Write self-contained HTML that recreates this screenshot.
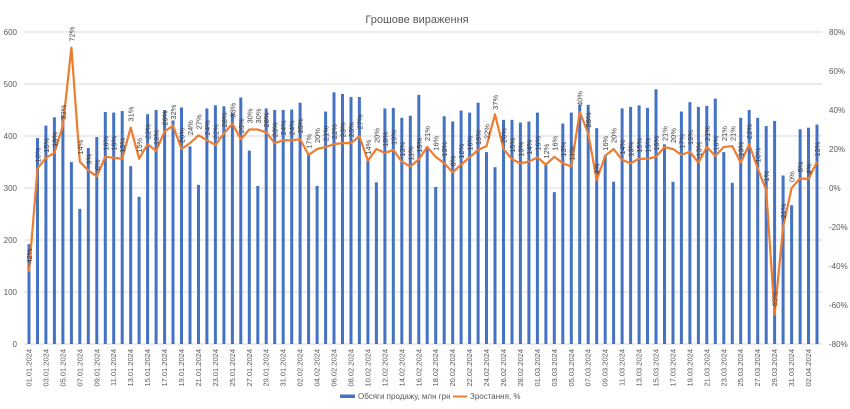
<!DOCTYPE html>
<html><head><meta charset="utf-8"><style>
html,body{margin:0;padding:0;background:#fff;}
svg{display:block;font-family:"Liberation Sans","DejaVu Sans",sans-serif;}
.t{font-size:8px;fill:#595959;}
.p{font-size:7.5px;fill:#404040;}
.x{font-size:7.5px;fill:#595959;}
</style></head><body>
<svg width="850" height="409" viewBox="0 0 850 409" xmlns="http://www.w3.org/2000/svg">
<rect width="850" height="409" fill="#fff"/>
<text x="417" y="23" text-anchor="middle" style="font-size:11px;fill:#595959">Грошове вираження</text>
<g stroke="#d9d9d9" stroke-width="1">
<line x1="24" x2="822" y1="32" y2="32"/><line x1="24" x2="822" y1="84" y2="84"/><line x1="24" x2="822" y1="136" y2="136"/><line x1="24" x2="822" y1="188" y2="188"/><line x1="24" x2="822" y1="240" y2="240"/><line x1="24" x2="822" y1="292" y2="292"/><line x1="24" x2="822" y1="344" y2="344"/>
</g>
<g class="t" text-anchor="end">
<text x="17" y="35">600</text><text x="17" y="87">500</text><text x="17" y="139">400</text><text x="17" y="191">300</text><text x="17" y="243">200</text><text x="17" y="295">100</text><text x="17" y="347">0</text>
</g>
<g class="t" text-anchor="start">
<text x="829" y="35">80%</text><text x="829" y="74">60%</text><text x="829" y="113">40%</text><text x="829" y="152">20%</text><text x="829" y="191">0%</text><text x="829" y="230">-20%</text><text x="829" y="269">-40%</text><text x="829" y="308">-60%</text><text x="829" y="347">-80%</text>
</g>
<g transform="translate(-1.5,344) scale(1,-0.52)" fill="#4472C4">
<rect x="29.0" width="3" height="192"/><rect x="37.5" width="3" height="396"/><rect x="45.9" width="3" height="420"/><rect x="54.4" width="3" height="436"/><rect x="62.9" width="3" height="440"/><rect x="71.4" width="3" height="350"/><rect x="79.8" width="3" height="260"/><rect x="88.3" width="3" height="377"/><rect x="96.8" width="3" height="398"/><rect x="105.3" width="3" height="446"/><rect x="113.7" width="3" height="445"/><rect x="122.2" width="3" height="448"/><rect x="130.7" width="3" height="342"/><rect x="139.1" width="3" height="283"/><rect x="147.6" width="3" height="442"/><rect x="156.1" width="3" height="450"/><rect x="164.6" width="3" height="450"/><rect x="173.0" width="3" height="430"/><rect x="181.5" width="3" height="455"/><rect x="190.0" width="3" height="380"/><rect x="198.5" width="3" height="306"/><rect x="206.9" width="3" height="453"/><rect x="215.4" width="3" height="459"/><rect x="223.9" width="3" height="457"/><rect x="232.4" width="3" height="445"/><rect x="240.8" width="3" height="474"/><rect x="249.3" width="3" height="372"/><rect x="257.8" width="3" height="304"/><rect x="266.2" width="3" height="453"/><rect x="274.7" width="3" height="450"/><rect x="283.2" width="3" height="450"/><rect x="291.7" width="3" height="451"/><rect x="300.1" width="3" height="464"/><rect x="308.6" width="3" height="365"/><rect x="317.1" width="3" height="304"/><rect x="325.6" width="3" height="447"/><rect x="334.0" width="3" height="484"/><rect x="342.5" width="3" height="481"/><rect x="351.0" width="3" height="475"/><rect x="359.4" width="3" height="475"/><rect x="367.9" width="3" height="355"/><rect x="376.4" width="3" height="311"/><rect x="384.9" width="3" height="453"/><rect x="393.3" width="3" height="454"/><rect x="401.8" width="3" height="435"/><rect x="410.3" width="3" height="439"/><rect x="418.8" width="3" height="479"/><rect x="427.2" width="3" height="380"/><rect x="435.7" width="3" height="302"/><rect x="444.2" width="3" height="438"/><rect x="452.7" width="3" height="428"/><rect x="461.1" width="3" height="449"/><rect x="469.6" width="3" height="445"/><rect x="478.1" width="3" height="464"/><rect x="486.5" width="3" height="369"/><rect x="495.0" width="3" height="340"/><rect x="503.5" width="3" height="431"/><rect x="512.0" width="3" height="431"/><rect x="520.4" width="3" height="426"/><rect x="528.9" width="3" height="428"/><rect x="537.4" width="3" height="445"/><rect x="545.9" width="3" height="344"/><rect x="554.3" width="3" height="292"/><rect x="562.8" width="3" height="424"/><rect x="571.3" width="3" height="445"/><rect x="579.7" width="3" height="460"/><rect x="588.2" width="3" height="460"/><rect x="596.7" width="3" height="415"/><rect x="605.2" width="3" height="363"/><rect x="613.6" width="3" height="312"/><rect x="622.1" width="3" height="453"/><rect x="630.6" width="3" height="456"/><rect x="639.1" width="3" height="459"/><rect x="647.5" width="3" height="454"/><rect x="656.0" width="3" height="490"/><rect x="664.5" width="3" height="384"/><rect x="673.0" width="3" height="312"/><rect x="681.4" width="3" height="447"/><rect x="689.9" width="3" height="465"/><rect x="698.4" width="3" height="456"/><rect x="706.8" width="3" height="458"/><rect x="715.3" width="3" height="472"/><rect x="723.8" width="3" height="369"/><rect x="732.3" width="3" height="310"/><rect x="740.7" width="3" height="435"/><rect x="749.2" width="3" height="450"/><rect x="757.7" width="3" height="435"/><rect x="766.2" width="3" height="419"/><rect x="774.6" width="3" height="429"/><rect x="783.1" width="3" height="324"/><rect x="791.6" width="3" height="267"/><rect x="800.1" width="3" height="413"/><rect x="808.5" width="3" height="416"/><rect x="817.0" width="3" height="422"/>
</g>
<g transform="translate(0,188) scale(1,-1.95)">
<polyline fill="none" stroke="#ED7D31" stroke-width="2.2" stroke-linejoin="round" vector-effect="non-scaling-stroke" points="29.0,-43 37.5,10 45.9,15.5 54.4,18 62.9,32 71.4,72 79.8,13.5 88.3,9 96.8,6 105.3,16 113.7,15.5 122.2,15 130.7,31 139.1,15 147.6,22.5 156.1,19 164.6,29 173.0,32 181.5,20 190.0,23 198.5,27 206.9,24.5 215.4,22 223.9,28 232.4,33 240.8,25 249.3,30 257.8,30 266.2,28.5 274.7,23 283.2,24.5 291.7,24.5 300.1,25 308.6,17 317.1,20 325.6,21 334.0,22.5 342.5,23 351.0,23 359.4,26.5 367.9,14 376.4,20 384.9,18 393.3,19.5 401.8,13.5 410.3,11 418.8,14.7 427.2,21 435.7,16 444.2,12.7 452.7,8 461.1,12 469.6,15.7 478.1,19.5 486.5,21.5 495.0,37.8 503.5,20 512.0,14.7 520.4,12.7 528.9,13.5 537.4,15.7 545.9,12 554.3,16 562.8,12.7 571.3,11 579.7,39 588.2,28 596.7,4 605.2,16.5 613.6,20 622.1,14.4 630.6,12.7 639.1,15 647.5,15 656.0,16 664.5,21 673.0,20 681.4,17 689.9,18.6 698.4,13 706.8,21 715.3,16.4 723.8,21 732.3,21.5 740.7,13 749.2,22.4 757.7,10 766.2,-1 774.6,-65 783.1,-20 791.6,0 800.1,5 808.5,4.5 817.0,13.5"/>
</g>
<g class="p">
<text transform="translate(32,266) rotate(-90)">-42%</text><text transform="translate(40.5,162.5) rotate(-90)">10%</text><text transform="translate(48.9,152.8) rotate(-90)">15%</text><text transform="translate(57.4,146.9) rotate(-90)">18%</text><text transform="translate(65.9,119.6) rotate(-90)">33%</text><text transform="translate(74.4,41.6) rotate(-90)">72%</text><text transform="translate(82.8,154.7) rotate(-90)">14%</text><text transform="translate(91.3,164.5) rotate(-90)">9%</text><text transform="translate(99.8,170.3) rotate(-90)">6%</text><text transform="translate(108.3,150.8) rotate(-90)">16%</text><text transform="translate(116.7,150.8) rotate(-90)">16%</text><text transform="translate(125.2,152.8) rotate(-90)">15%</text><text transform="translate(133.7,121.6) rotate(-90)">31%</text><text transform="translate(142.1,152.8) rotate(-90)">15%</text><text transform="translate(150.6,139.1) rotate(-90)">22%</text><text transform="translate(159.1,145) rotate(-90)">19%</text><text transform="translate(167.6,125.5) rotate(-90)">29%</text><text transform="translate(176,119.6) rotate(-90)">32%</text><text transform="translate(184.5,143) rotate(-90)">20%</text><text transform="translate(193,135.2) rotate(-90)">24%</text><text transform="translate(201.5,129.4) rotate(-90)">27%</text><text transform="translate(209.9,135.2) rotate(-90)">24%</text><text transform="translate(218.4,139.1) rotate(-90)">22%</text><text transform="translate(226.9,127.4) rotate(-90)">28%</text><text transform="translate(235.4,117.7) rotate(-90)">33%</text><text transform="translate(243.8,133.3) rotate(-90)">25%</text><text transform="translate(252.3,123.5) rotate(-90)">30%</text><text transform="translate(260.8,123.5) rotate(-90)">30%</text><text transform="translate(269.2,127.4) rotate(-90)">28%</text><text transform="translate(277.7,137.2) rotate(-90)">23%</text><text transform="translate(286.2,135.2) rotate(-90)">24%</text><text transform="translate(294.7,135.2) rotate(-90)">24%</text><text transform="translate(303.1,133.3) rotate(-90)">25%</text><text transform="translate(311.6,148.9) rotate(-90)">17%</text><text transform="translate(320.1,143) rotate(-90)">20%</text><text transform="translate(328.6,141.1) rotate(-90)">21%</text><text transform="translate(337,139.1) rotate(-90)">22%</text><text transform="translate(345.5,137.2) rotate(-90)">23%</text><text transform="translate(354,137.2) rotate(-90)">23%</text><text transform="translate(362.4,129.4) rotate(-90)">27%</text><text transform="translate(370.9,154.7) rotate(-90)">14%</text><text transform="translate(379.4,143) rotate(-90)">20%</text><text transform="translate(387.9,146.9) rotate(-90)">18%</text><text transform="translate(396.3,145) rotate(-90)">19%</text><text transform="translate(404.8,156.7) rotate(-90)">13%</text><text transform="translate(413.3,160.6) rotate(-90)">11%</text><text transform="translate(421.8,152.8) rotate(-90)">15%</text><text transform="translate(430.2,141.1) rotate(-90)">21%</text><text transform="translate(438.7,150.8) rotate(-90)">16%</text><text transform="translate(447.2,156.7) rotate(-90)">13%</text><text transform="translate(455.7,166.4) rotate(-90)">8%</text><text transform="translate(464.1,158.6) rotate(-90)">12%</text><text transform="translate(472.6,150.8) rotate(-90)">16%</text><text transform="translate(481.1,145) rotate(-90)">19%</text><text transform="translate(489.5,139.1) rotate(-90)">22%</text><text transform="translate(498,109.9) rotate(-90)">37%</text><text transform="translate(506.5,143) rotate(-90)">20%</text><text transform="translate(515,152.8) rotate(-90)">15%</text><text transform="translate(523.4,156.7) rotate(-90)">13%</text><text transform="translate(531.9,154.7) rotate(-90)">14%</text><text transform="translate(540.4,150.8) rotate(-90)">16%</text><text transform="translate(548.9,158.6) rotate(-90)">12%</text><text transform="translate(557.3,150.8) rotate(-90)">16%</text><text transform="translate(565.8,156.7) rotate(-90)">13%</text><text transform="translate(574.3,160.6) rotate(-90)">11%</text><text transform="translate(582.7,106) rotate(-90)">40%</text><text transform="translate(591.2,127.4) rotate(-90)">28%</text><text transform="translate(599.7,174.2) rotate(-90)">4%</text><text transform="translate(608.2,150.8) rotate(-90)">16%</text><text transform="translate(616.6,143) rotate(-90)">20%</text><text transform="translate(625.1,154.7) rotate(-90)">14%</text><text transform="translate(633.6,156.7) rotate(-90)">13%</text><text transform="translate(642.1,152.8) rotate(-90)">15%</text><text transform="translate(650.5,152.8) rotate(-90)">15%</text><text transform="translate(659,150.8) rotate(-90)">16%</text><text transform="translate(667.5,141.1) rotate(-90)">21%</text><text transform="translate(676,143) rotate(-90)">20%</text><text transform="translate(684.4,148.9) rotate(-90)">17%</text><text transform="translate(692.9,145) rotate(-90)">19%</text><text transform="translate(701.4,156.7) rotate(-90)">13%</text><text transform="translate(709.8,141.1) rotate(-90)">21%</text><text transform="translate(718.3,150.8) rotate(-90)">16%</text><text transform="translate(726.8,141.1) rotate(-90)">21%</text><text transform="translate(735.3,141.1) rotate(-90)">21%</text><text transform="translate(743.7,156.7) rotate(-90)">13%</text><text transform="translate(752.2,139.1) rotate(-90)">22%</text><text transform="translate(760.7,162.5) rotate(-90)">10%</text><text transform="translate(769.2,184) rotate(-90)">-1%</text><text transform="translate(777.6,308.8) rotate(-90)">-65%</text><text transform="translate(786.1,221) rotate(-90)">-21%</text><text transform="translate(794.6,182) rotate(-90)">0%</text><text transform="translate(803.1,172.3) rotate(-90)">5%</text><text transform="translate(811.5,174.2) rotate(-90)">4%</text><text transform="translate(820,156.7) rotate(-90)">13%</text>
</g>
<g class="x" text-anchor="end">
<text transform="translate(31.5,349) rotate(-90)">01.01.2024</text><text transform="translate(48.4,349) rotate(-90)">03.01.2024</text><text transform="translate(65.4,349) rotate(-90)">05.01.2024</text><text transform="translate(82.3,349) rotate(-90)">07.01.2024</text><text transform="translate(99.3,349) rotate(-90)">09.01.2024</text><text transform="translate(116.2,349) rotate(-90)">11.01.2024</text><text transform="translate(133.2,349) rotate(-90)">13.01.2024</text><text transform="translate(150.1,349) rotate(-90)">15.01.2024</text><text transform="translate(167.1,349) rotate(-90)">17.01.2024</text><text transform="translate(184,349) rotate(-90)">19.01.2024</text><text transform="translate(201,349) rotate(-90)">21.01.2024</text><text transform="translate(217.9,349) rotate(-90)">23.01.2024</text><text transform="translate(234.9,349) rotate(-90)">25.01.2024</text><text transform="translate(251.8,349) rotate(-90)">27.01.2024</text><text transform="translate(268.7,349) rotate(-90)">29.01.2024</text><text transform="translate(285.7,349) rotate(-90)">31.01.2024</text><text transform="translate(302.6,349) rotate(-90)">02.02.2024</text><text transform="translate(319.6,349) rotate(-90)">04.02.2024</text><text transform="translate(336.5,349) rotate(-90)">06.02.2024</text><text transform="translate(353.5,349) rotate(-90)">08.02.2024</text><text transform="translate(370.4,349) rotate(-90)">10.02.2024</text><text transform="translate(387.4,349) rotate(-90)">12.02.2024</text><text transform="translate(404.3,349) rotate(-90)">14.02.2024</text><text transform="translate(421.3,349) rotate(-90)">16.02.2024</text><text transform="translate(438.2,349) rotate(-90)">18.02.2024</text><text transform="translate(455.2,349) rotate(-90)">20.02.2024</text><text transform="translate(472.1,349) rotate(-90)">22.02.2024</text><text transform="translate(489,349) rotate(-90)">24.02.2024</text><text transform="translate(506,349) rotate(-90)">26.02.2024</text><text transform="translate(522.9,349) rotate(-90)">28.02.2024</text><text transform="translate(539.9,349) rotate(-90)">01.03.2024</text><text transform="translate(556.8,349) rotate(-90)">03.03.2024</text><text transform="translate(573.8,349) rotate(-90)">05.03.2024</text><text transform="translate(590.7,349) rotate(-90)">07.03.2024</text><text transform="translate(607.7,349) rotate(-90)">09.03.2024</text><text transform="translate(624.6,349) rotate(-90)">11.03.2024</text><text transform="translate(641.6,349) rotate(-90)">13.03.2024</text><text transform="translate(658.5,349) rotate(-90)">15.03.2024</text><text transform="translate(675.5,349) rotate(-90)">17.03.2024</text><text transform="translate(692.4,349) rotate(-90)">19.03.2024</text><text transform="translate(709.3,349) rotate(-90)">21.03.2024</text><text transform="translate(726.3,349) rotate(-90)">23.03.2024</text><text transform="translate(743.2,349) rotate(-90)">25.03.2024</text><text transform="translate(760.2,349) rotate(-90)">27.03.2024</text><text transform="translate(777.1,349) rotate(-90)">29.03.2024</text><text transform="translate(794.1,349) rotate(-90)">31.03.2024</text><text transform="translate(811,349) rotate(-90)">02.04.2024</text>
</g>
<rect x="340" y="394.5" width="15" height="3.5" fill="#4472C4"/>
<text x="358" y="399" class="t">Обсяги продажу, млн грн</text>
<line x1="453" x2="467" y1="396.5" y2="396.5" stroke="#ED7D31" stroke-width="2"/>
<text x="470" y="399" class="t">Зростання, %</text>
</svg>
</body></html>
